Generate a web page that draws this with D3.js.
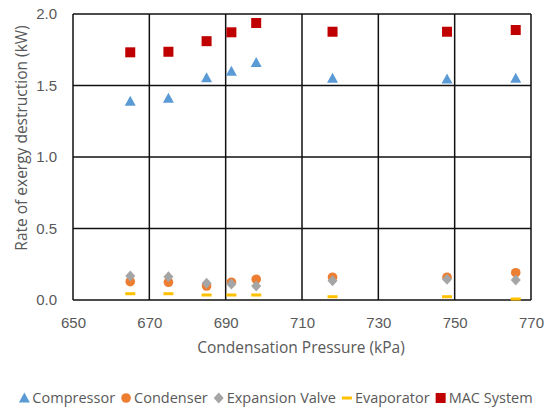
<!DOCTYPE html>
<html>
<head>
<meta charset="utf-8">
<script src="https://cdn.jsdelivr.net/npm/d3@7"></script>
<style>
  body { margin: 0; background: #fff; }
  svg { font-family: "Open Sans", sans-serif; }
  .tick text { fill: #595959; font-size: 15px; }
</style>
</head>
<body>
<svg id="chart" width="547" height="407"></svg>
<script>
const width = 547;
const height = 407;

// data
var pressure = [665, 675, 685, 691.5, 698, 718, 748, 766];
var compressor = [1.39, 1.41, 1.555, 1.60, 1.66, 1.55, 1.545, 1.55];
var condenser = [0.128, 0.124, 0.098, 0.124, 0.145, 0.159, 0.159, 0.191];
var expansionValve = [0.168, 0.163, 0.117, 0.112, 0.098, 0.135, 0.145, 0.14];
var evaporator = [0.044, 0.044, 0.035, 0.035, 0.035, 0.023, 0.023, 0.007];
var macSystem = [1.732, 1.736, 1.81, 1.872, 1.937, 1.876, 1.876, 1.888];

var xTicks = [650, 670, 690, 710, 730, 750, 770];
var yTicks = [0, 0.5, 1.0, 1.5, 2.0];

var series = [
  {name: "Compressor", values: compressor, color: "#5B9BD5", shape: "triangle"},
  {name: "Condenser", values: condenser, color: "#ED7D31", shape: "circle"},
  {name: "Expansion Valve", values: expansionValve, color: "#A5A5A5", shape: "diamond"},
  {name: "Evaporator", values: evaporator, color: "#FFC000", shape: "dash"},
  {name: "MAC System", values: macSystem, color: "#C00000", shape: "square"}
];

var svg = d3.select("#chart");

var xScale = d3.scaleLinear().domain([650, 770]).range([73, 531]);
var yScale = d3.scaleLinear().domain([0, 2]).range([300, 14]);

// gridlines
svg.append("g").selectAll("line.h")
  .data(yTicks).enter().append("line")
  .attr("x1", xScale(650)).attr("x2", xScale(770))
  .attr("y1", d => yScale(d)).attr("y2", d => yScale(d))
  .attr("stroke", "#111").attr("stroke-width", 1.5);
svg.append("g").selectAll("line.v")
  .data(xTicks).enter().append("line")
  .attr("x1", d => xScale(d)).attr("x2", d => xScale(d))
  .attr("y1", yScale(0)).attr("y2", yScale(2))
  .attr("stroke", "#111").attr("stroke-width", 1.5);

// axes (text only, lines come from the grid)
var xAxis = d3.axisBottom(xScale).tickValues(xTicks).tickSize(0).tickPadding(17);
svg.append("g").attr("transform", "translate(0," + yScale(0) + ")").call(xAxis)
  .call(g => g.select(".domain").remove());
var yAxis = d3.axisLeft(yScale).tickValues(yTicks).tickFormat(d3.format(".1f")).tickSize(0).tickPadding(16);
svg.append("g").attr("transform", "translate(" + xScale(650) + ",0)").call(yAxis)
  .call(g => g.select(".domain").remove());

// titles
svg.append("text").attr("x", 301).attr("y", 353)
  .attr("text-anchor", "middle").attr("fill", "#595959").attr("font-size", 15.5)
  .text("Condensation Pressure (kPa)");
svg.append("text").attr("transform", "translate(27,138) rotate(-90)")
  .attr("text-anchor", "middle").attr("fill", "#595959").attr("font-size", 15.5)
  .text("Rate of exergy destruction (kW)");

function drawShape(g, shape, color) {
  if (shape === "triangle") {
    g.append("path").attr("d", "M0,-5.5L5.5,4.5L-5.5,4.5Z").attr("fill", color);
  } else if (shape === "circle") {
    g.append("circle").attr("r", 4.8).attr("fill", color);
  } else if (shape === "diamond") {
    g.append("path").attr("d", "M0,-5.5L5,0L0,5.5L-5,0Z").attr("fill", color);
  } else if (shape === "dash") {
    g.append("rect").attr("x", -5).attr("y", -1.5).attr("width", 10).attr("height", 3).attr("fill", color);
  } else {
    g.append("rect").attr("x", -5).attr("y", -5).attr("width", 10).attr("height", 10).attr("fill", color);
  }
}

// markers; draw in order so later series sit on top
var drawOrder = [0, 4, 1, 2, 3];
drawOrder.forEach(si => {
  var s = series[si];
  s.values.forEach((v, i) => {
    var g = svg.append("g").attr("transform", "translate(" + xScale(pressure[i]) + "," + yScale(v) + ")");
    drawShape(g, s.shape, s.color);
  });
});

// legend
var legend = svg.append("g");
var lx = 0;
series.forEach(s => {
  var item = legend.append("g").attr("transform", "translate(" + lx + ",0)");
  drawShape(item.append("g").attr("transform", "translate(6,0)"), s.shape, s.color);
  var t = item.append("text").attr("x", 14).attr("y", 5)
    .attr("fill", "#595959").attr("font-size", 14.5).text(s.name);
  lx += 14 + t.node().getComputedTextLength() + 5;
});
legend.attr("transform", "translate(" + (278 - lx / 2) + ",398)");
</script>
</body>
</html>
